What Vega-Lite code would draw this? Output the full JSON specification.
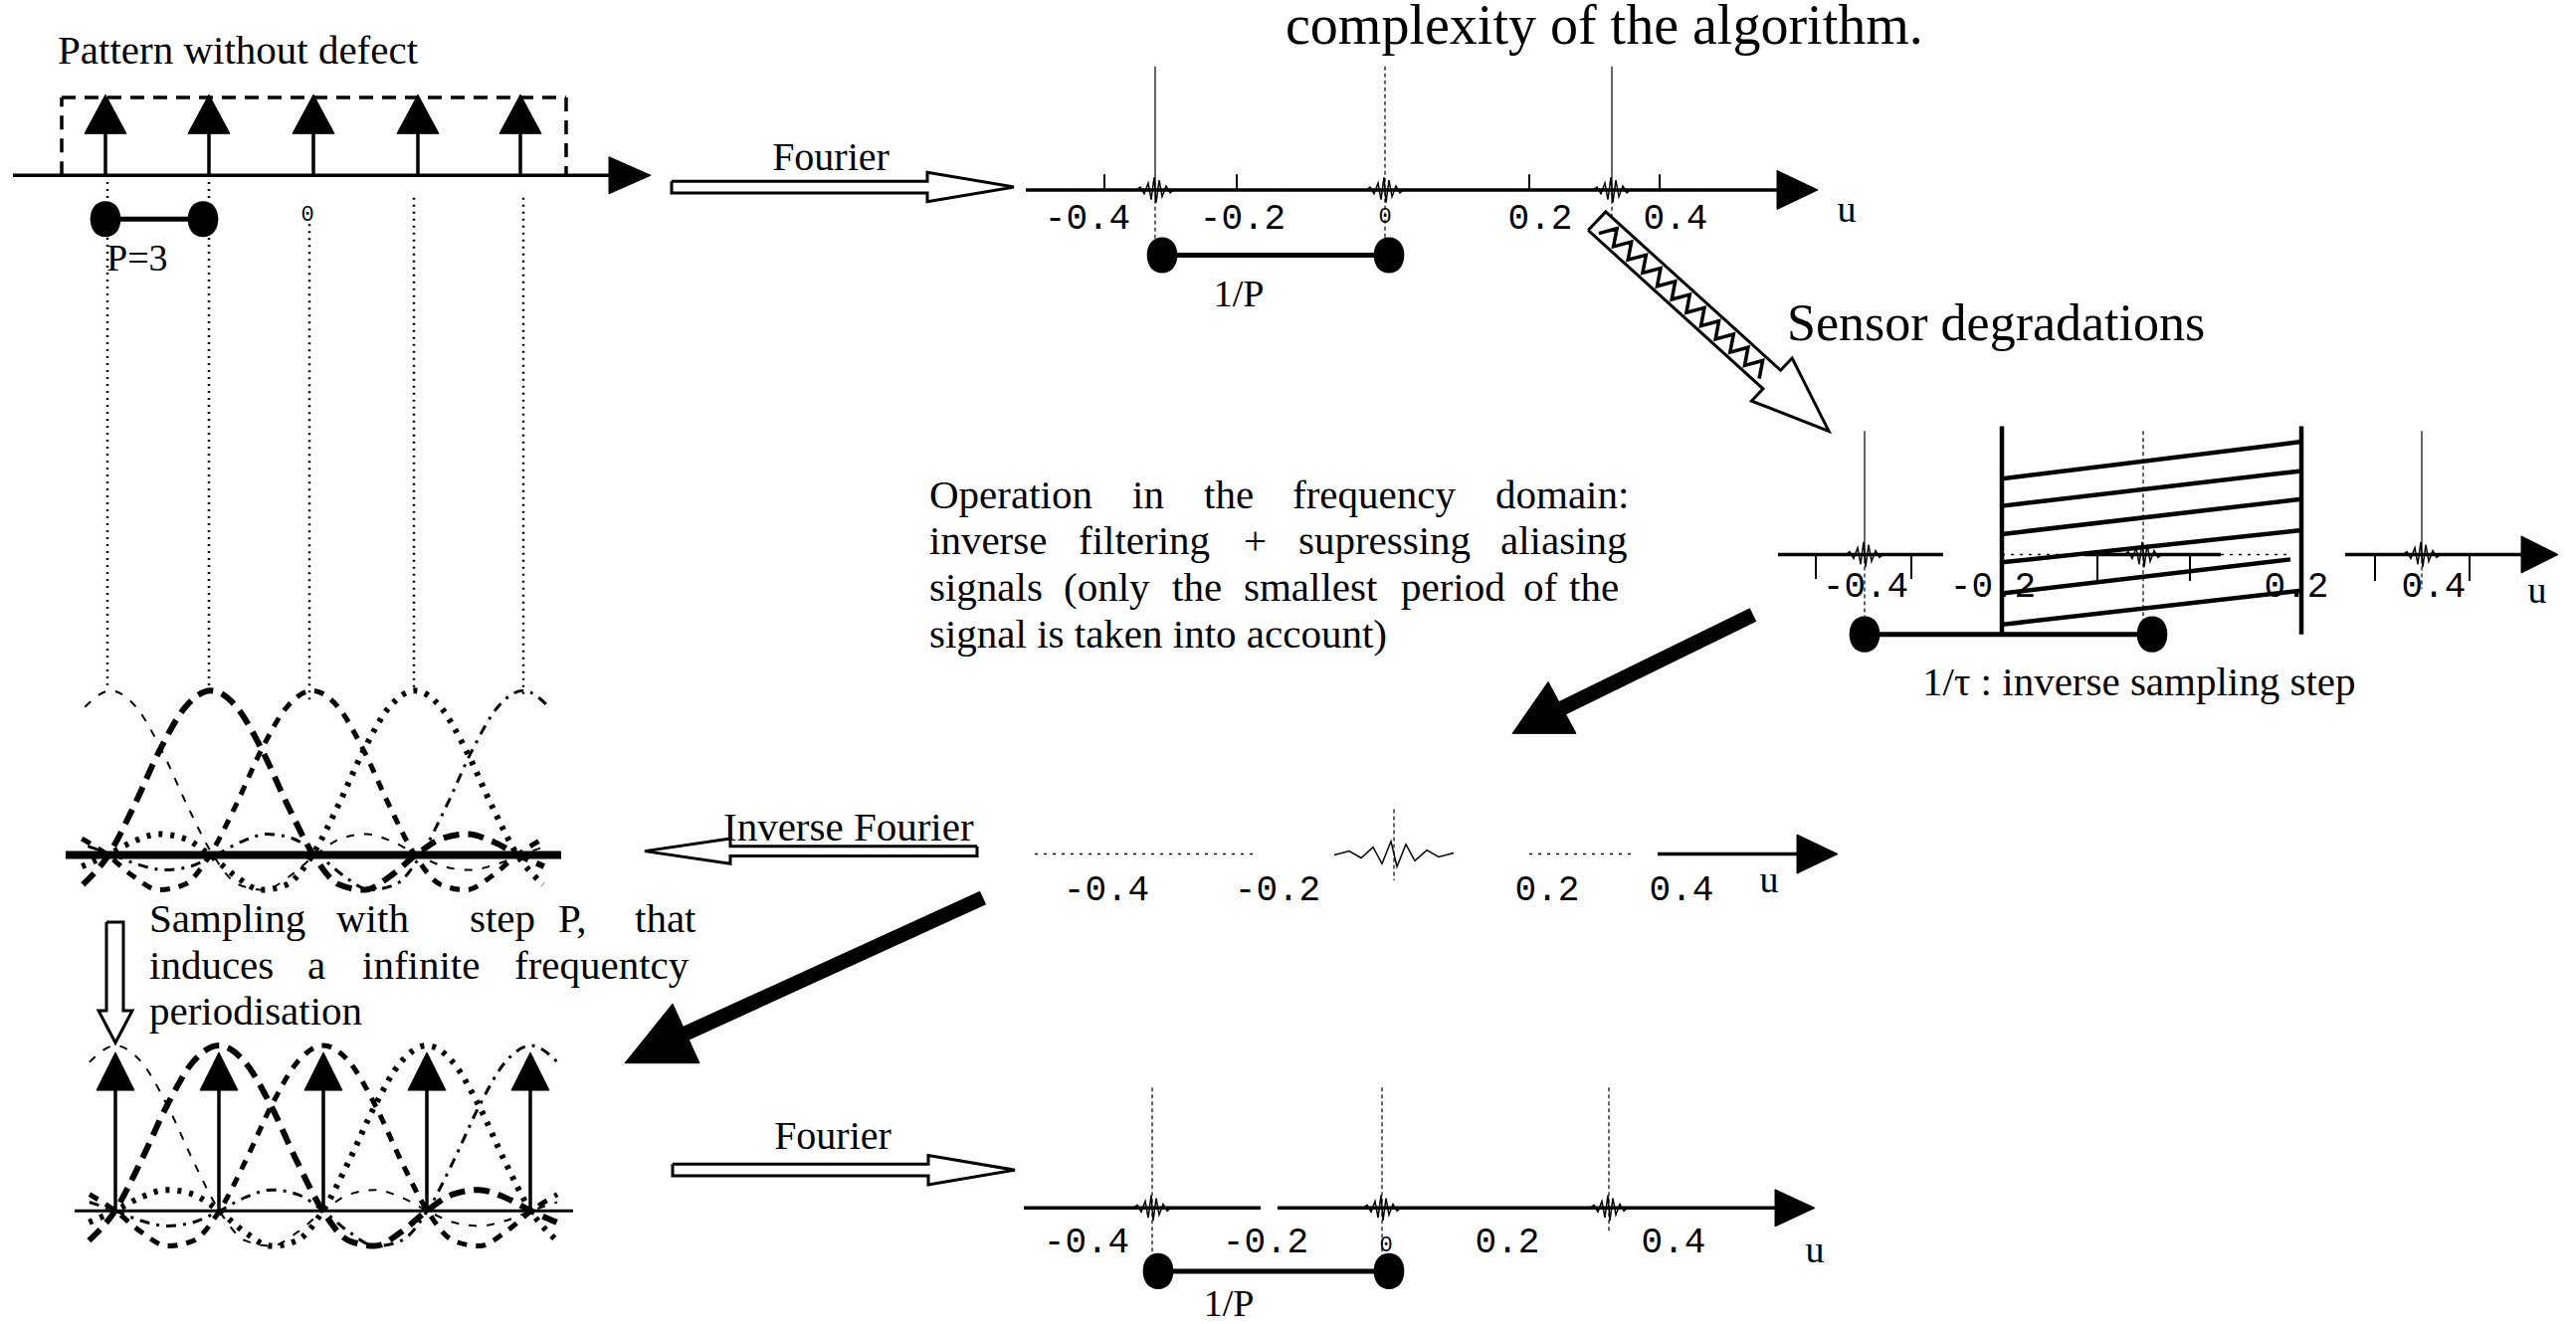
{
"$schema":"https://vega.github.io/schema/vega-lite/v6.json",
"width":2589,"height":1331,
"autosize":{"type":"fit","contains":"padding"},
"padding":0,
"background":"#ffffff",
"config":{"view":{"stroke":null}},
"datasets":{
"cv":[
{"g":"u1","s":"1","x":85.3,"y":711.8},{"g":"u1","s":"1","x":111,"y":695},{"g":"u1","s":"1","x":136.8,"y":711.8},{"g":"u1","s":"1","x":162.5,"y":756.4},{"g":"u1","s":"1","x":188.3,"y":813.3},{"g":"u1","s":"1","x":214,"y":864},{"g":"u1","s":"1","x":239.8,"y":894.4},{"g":"u1","s":"1","x":265.5,"y":899.9},{"g":"u1","s":"1","x":291.3,"y":885.7},{"g":"u1","s":"1","x":317,"y":864},{"g":"u1","s":"1","x":342.8,"y":847.1},{"g":"u1","s":"1","x":368.5,"y":842.5},{"g":"u1","s":"1","x":394.3,"y":850.2},{"g":"u1","s":"1","x":420,"y":864},{"g":"u1","s":"1","x":445.8,"y":875.7},{"g":"u1","s":"1","x":471.5,"y":879.4},{"g":"u1","s":"1","x":497.3,"y":874.1},{"g":"u1","s":"1","x":523,"y":864},{"g":"u1","s":"1","x":548.8,"y":855},
{"g":"u2","s":"2","x":83.3,"y":894.4},{"g":"u2","s":"2","x":109,"y":864},{"g":"u2","s":"2","x":134.8,"y":813.3},{"g":"u2","s":"2","x":160.5,"y":756.4},{"g":"u2","s":"2","x":186.3,"y":711.8},{"g":"u2","s":"2","x":212,"y":695},{"g":"u2","s":"2","x":237.8,"y":711.8},{"g":"u2","s":"2","x":263.5,"y":756.4},{"g":"u2","s":"2","x":289.3,"y":813.3},{"g":"u2","s":"2","x":315,"y":864},{"g":"u2","s":"2","x":340.8,"y":894.4},{"g":"u2","s":"2","x":366.5,"y":899.9},{"g":"u2","s":"2","x":392.3,"y":885.7},{"g":"u2","s":"2","x":418,"y":864},{"g":"u2","s":"2","x":443.8,"y":847.1},{"g":"u2","s":"2","x":469.5,"y":842.5},{"g":"u2","s":"2","x":495.3,"y":850.2},{"g":"u2","s":"2","x":521,"y":864},{"g":"u2","s":"2","x":546.8,"y":875.7},
{"g":"u3","s":"3","x":82.3,"y":847.1},{"g":"u3","s":"3","x":108,"y":864},{"g":"u3","s":"3","x":133.8,"y":885.7},{"g":"u3","s":"3","x":159.5,"y":899.9},{"g":"u3","s":"3","x":185.3,"y":894.4},{"g":"u3","s":"3","x":211,"y":864},{"g":"u3","s":"3","x":236.8,"y":813.3},{"g":"u3","s":"3","x":262.5,"y":756.4},{"g":"u3","s":"3","x":288.3,"y":711.8},{"g":"u3","s":"3","x":314,"y":695},{"g":"u3","s":"3","x":339.8,"y":711.8},{"g":"u3","s":"3","x":365.5,"y":756.4},{"g":"u3","s":"3","x":391.3,"y":813.3},{"g":"u3","s":"3","x":417,"y":864},{"g":"u3","s":"3","x":442.8,"y":894.4},{"g":"u3","s":"3","x":468.5,"y":899.9},{"g":"u3","s":"3","x":494.3,"y":885.7},{"g":"u3","s":"3","x":520,"y":864},{"g":"u3","s":"3","x":545.8,"y":847.1},
{"g":"u4","s":"4","x":82.3,"y":875.7},{"g":"u4","s":"4","x":108,"y":864},{"g":"u4","s":"4","x":133.8,"y":850.2},{"g":"u4","s":"4","x":159.5,"y":842.5},{"g":"u4","s":"4","x":185.3,"y":847.1},{"g":"u4","s":"4","x":211,"y":864},{"g":"u4","s":"4","x":236.8,"y":885.7},{"g":"u4","s":"4","x":262.5,"y":899.9},{"g":"u4","s":"4","x":288.3,"y":894.4},{"g":"u4","s":"4","x":314,"y":864},{"g":"u4","s":"4","x":339.8,"y":813.3},{"g":"u4","s":"4","x":365.5,"y":756.4},{"g":"u4","s":"4","x":391.3,"y":711.8},{"g":"u4","s":"4","x":417,"y":695},{"g":"u4","s":"4","x":442.8,"y":711.8},{"g":"u4","s":"4","x":468.5,"y":756.4},{"g":"u4","s":"4","x":494.3,"y":813.3},{"g":"u4","s":"4","x":520,"y":864},{"g":"u4","s":"4","x":545.8,"y":894.4},
{"g":"u5","s":"5","x":88.3,"y":855},{"g":"u5","s":"5","x":114,"y":864},{"g":"u5","s":"5","x":139.8,"y":874.1},{"g":"u5","s":"5","x":165.5,"y":879.4},{"g":"u5","s":"5","x":191.3,"y":875.7},{"g":"u5","s":"5","x":217,"y":864},{"g":"u5","s":"5","x":242.8,"y":850.2},{"g":"u5","s":"5","x":268.5,"y":842.5},{"g":"u5","s":"5","x":294.3,"y":847.1},{"g":"u5","s":"5","x":320,"y":864},{"g":"u5","s":"5","x":345.8,"y":885.7},{"g":"u5","s":"5","x":371.5,"y":899.9},{"g":"u5","s":"5","x":397.3,"y":894.4},{"g":"u5","s":"5","x":423,"y":864},{"g":"u5","s":"5","x":448.8,"y":813.3},{"g":"u5","s":"5","x":474.5,"y":756.4},{"g":"u5","s":"5","x":500.3,"y":711.8},{"g":"u5","s":"5","x":526,"y":695},{"g":"u5","s":"5","x":551.8,"y":711.8},
{"g":"l1","s":"1","x":89.9,"y":1076.9},{"g":"l1","s":"1","x":116,"y":1060},{"g":"l1","s":"1","x":142.1,"y":1076.9},{"g":"l1","s":"1","x":168.3,"y":1121.8},{"g":"l1","s":"1","x":194.4,"y":1179},{"g":"l1","s":"1","x":220.5,"y":1230},{"g":"l1","s":"1","x":246.6,"y":1260.6},{"g":"l1","s":"1","x":272.8,"y":1266.1},{"g":"l1","s":"1","x":298.9,"y":1251.9},{"g":"l1","s":"1","x":325,"y":1230},{"g":"l1","s":"1","x":351.1,"y":1213},{"g":"l1","s":"1","x":377.3,"y":1208.4},{"g":"l1","s":"1","x":403.4,"y":1216.1},{"g":"l1","s":"1","x":429.5,"y":1230},{"g":"l1","s":"1","x":455.6,"y":1241.8},{"g":"l1","s":"1","x":481.8,"y":1245.5},{"g":"l1","s":"1","x":507.9,"y":1240.2},{"g":"l1","s":"1","x":534,"y":1230},{"g":"l1","s":"1","x":560.1,"y":1221},
{"g":"l2","s":"2","x":89.4,"y":1260.6},{"g":"l2","s":"2","x":115.5,"y":1230},{"g":"l2","s":"2","x":141.6,"y":1179},{"g":"l2","s":"2","x":167.8,"y":1121.8},{"g":"l2","s":"2","x":193.9,"y":1076.9},{"g":"l2","s":"2","x":220,"y":1060},{"g":"l2","s":"2","x":246.1,"y":1076.9},{"g":"l2","s":"2","x":272.3,"y":1121.8},{"g":"l2","s":"2","x":298.4,"y":1179},{"g":"l2","s":"2","x":324.5,"y":1230},{"g":"l2","s":"2","x":350.6,"y":1260.6},{"g":"l2","s":"2","x":376.8,"y":1266.1},{"g":"l2","s":"2","x":402.9,"y":1251.9},{"g":"l2","s":"2","x":429,"y":1230},{"g":"l2","s":"2","x":455.1,"y":1213},{"g":"l2","s":"2","x":481.3,"y":1208.4},{"g":"l2","s":"2","x":507.4,"y":1216.1},{"g":"l2","s":"2","x":533.5,"y":1230},{"g":"l2","s":"2","x":559.6,"y":1241.8},
{"g":"l3","s":"3","x":89.9,"y":1213},{"g":"l3","s":"3","x":116,"y":1230},{"g":"l3","s":"3","x":142.1,"y":1251.9},{"g":"l3","s":"3","x":168.3,"y":1266.1},{"g":"l3","s":"3","x":194.4,"y":1260.6},{"g":"l3","s":"3","x":220.5,"y":1230},{"g":"l3","s":"3","x":246.6,"y":1179},{"g":"l3","s":"3","x":272.8,"y":1121.8},{"g":"l3","s":"3","x":298.9,"y":1076.9},{"g":"l3","s":"3","x":325,"y":1060},{"g":"l3","s":"3","x":351.1,"y":1076.9},{"g":"l3","s":"3","x":377.3,"y":1121.8},{"g":"l3","s":"3","x":403.4,"y":1179},{"g":"l3","s":"3","x":429.5,"y":1230},{"g":"l3","s":"3","x":455.6,"y":1260.6},{"g":"l3","s":"3","x":481.8,"y":1266.1},{"g":"l3","s":"3","x":507.9,"y":1251.9},{"g":"l3","s":"3","x":534,"y":1230},{"g":"l3","s":"3","x":560.1,"y":1213},
{"g":"l4","s":"4","x":89.4,"y":1241.8},{"g":"l4","s":"4","x":115.5,"y":1230},{"g":"l4","s":"4","x":141.6,"y":1216.1},{"g":"l4","s":"4","x":167.8,"y":1208.4},{"g":"l4","s":"4","x":193.9,"y":1213},{"g":"l4","s":"4","x":220,"y":1230},{"g":"l4","s":"4","x":246.1,"y":1251.9},{"g":"l4","s":"4","x":272.3,"y":1266.1},{"g":"l4","s":"4","x":298.4,"y":1260.6},{"g":"l4","s":"4","x":324.5,"y":1230},{"g":"l4","s":"4","x":350.6,"y":1179},{"g":"l4","s":"4","x":376.8,"y":1121.8},{"g":"l4","s":"4","x":402.9,"y":1076.9},{"g":"l4","s":"4","x":429,"y":1060},{"g":"l4","s":"4","x":455.1,"y":1076.9},{"g":"l4","s":"4","x":481.3,"y":1121.8},{"g":"l4","s":"4","x":507.4,"y":1179},{"g":"l4","s":"4","x":533.5,"y":1230},{"g":"l4","s":"4","x":559.6,"y":1260.6},
{"g":"l5","s":"5","x":89.9,"y":1221},{"g":"l5","s":"5","x":116,"y":1230},{"g":"l5","s":"5","x":142.1,"y":1240.2},{"g":"l5","s":"5","x":168.3,"y":1245.5},{"g":"l5","s":"5","x":194.4,"y":1241.8},{"g":"l5","s":"5","x":220.5,"y":1230},{"g":"l5","s":"5","x":246.6,"y":1216.1},{"g":"l5","s":"5","x":272.8,"y":1208.4},{"g":"l5","s":"5","x":298.9,"y":1213},{"g":"l5","s":"5","x":325,"y":1230},{"g":"l5","s":"5","x":351.1,"y":1251.9},{"g":"l5","s":"5","x":377.3,"y":1266.1},{"g":"l5","s":"5","x":403.4,"y":1260.6},{"g":"l5","s":"5","x":429.5,"y":1230},{"g":"l5","s":"5","x":455.6,"y":1179},{"g":"l5","s":"5","x":481.8,"y":1121.8},{"g":"l5","s":"5","x":507.9,"y":1076.9},{"g":"l5","s":"5","x":534,"y":1060},{"g":"l5","s":"5","x":560.1,"y":1076.9}
],
"seg":[
{"k":"a","x":13,"y":165,"x2":615,"y2":165},
{"k":"a","x":1031,"y":180,"x2":1790,"y2":180},
{"k":"a","x":1787,"y":555,"x2":1953,"y2":555},
{"k":"a","x":2095,"y":555,"x2":2232,"y2":555},
{"k":"a","x":2357,"y":555,"x2":2537,"y2":555},
{"k":"a","x":1666,"y":863,"x2":1809,"y2":863},
{"k":"a","x":1029,"y":1227,"x2":1267,"y2":1227},
{"k":"a","x":1284,"y":1227,"x2":1787,"y2":1227},
{"k":"a","x":106,"y":118,"x2":106,"y2":165},
{"k":"a","x":210,"y":118,"x2":210,"y2":165},
{"k":"a","x":315,"y":118,"x2":315,"y2":165},
{"k":"a","x":420,"y":118,"x2":420,"y2":165},
{"k":"a","x":523,"y":118,"x2":523,"y2":165},
{"k":"a","x":116,"y":1102,"x2":116,"y2":1230},
{"k":"a","x":220,"y":1102,"x2":220,"y2":1230},
{"k":"a","x":325,"y":1102,"x2":325,"y2":1230},
{"k":"a","x":429,"y":1102,"x2":429,"y2":1230},
{"k":"a","x":533,"y":1102,"x2":533,"y2":1230},
{"k":"box","x":2012,"y":423,"x2":2012,"y2":637},
{"k":"box","x":2313,"y":423,"x2":2313,"y2":637},
{"k":"box","x":2012,"y":477,"x2":2313,"y2":439},
{"k":"box","x":2012,"y":505,"x2":2313,"y2":469},
{"k":"box","x":2012,"y":534,"x2":2313,"y2":498},
{"k":"box","x":2012,"y":563,"x2":2313,"y2":530},
{"k":"box","x":2012,"y":595,"x2":2302,"y2":560},
{"k":"box","x":2012,"y":627,"x2":2313,"y2":592},
{"k":"a8","x":66,"y":864,"x2":564,"y2":864},
{"k":"lw3","x":75,"y":1230,"x2":576,"y2":1230},
{"k":"bar","x":106,"y":210,"x2":204,"y2":210},
{"k":"bar","x":1168,"y":247,"x2":1396,"y2":247},
{"k":"bar","x":1874,"y":637,"x2":2163,"y2":637},
{"k":"bar","x":1164,"y":1292,"x2":1396,"y2":1292},
{"k":"dash","x":62,"y":165,"x2":62,"y2":85},
{"k":"dash","x":62,"y":85,"x2":569,"y2":85},
{"k":"dash","x":569,"y":85,"x2":569,"y2":165},
{"k":"dot","x":108,"y":172,"x2":108,"y2":690},
{"k":"dot","x":210,"y":172,"x2":210,"y2":693},
{"k":"dot","x":311,"y":215,"x2":311,"y2":705},
{"k":"dot","x":416,"y":188,"x2":416,"y2":692},
{"k":"dot","x":526,"y":188,"x2":526,"y2":700},
{"k":"pk","x":1161,"y":53,"x2":1161,"y2":190},
{"k":"pk","x":1620,"y":53,"x2":1620,"y2":190},
{"k":"pk","x":1874,"y":428,"x2":1874,"y2":560},
{"k":"pk","x":2434,"y":428,"x2":2434,"y2":560},
{"k":"pkd","x":1392,"y":53,"x2":1392,"y2":240},
{"k":"pkd","x":1161,"y":190,"x2":1161,"y2":240},
{"k":"pkd","x":1620,"y":190,"x2":1620,"y2":210},
{"k":"pkd","x":2154,"y":428,"x2":2154,"y2":622},
{"k":"pkd","x":1874,"y":560,"x2":1874,"y2":625},
{"k":"pkd","x":2434,"y":560,"x2":2434,"y2":590},
{"k":"pkd","x":1401,"y":817,"x2":1401,"y2":890},
{"k":"pkd","x":1158,"y":1103,"x2":1158,"y2":1282},
{"k":"pkd","x":1389,"y":1103,"x2":1389,"y2":1280},
{"k":"pkd","x":1617,"y":1103,"x2":1617,"y2":1252},
{"k":"tk","x":1110,"y":164,"x2":1110,"y2":180},
{"k":"tk","x":1243,"y":164,"x2":1243,"y2":180},
{"k":"tk","x":1537,"y":164,"x2":1537,"y2":180},
{"k":"tk","x":1668,"y":164,"x2":1668,"y2":180},
{"k":"tk","x":1825,"y":555,"x2":1825,"y2":580},
{"k":"tk","x":1921,"y":555,"x2":1921,"y2":580},
{"k":"tk","x":2108,"y":555,"x2":2108,"y2":582},
{"k":"tk","x":2201,"y":555,"x2":2201,"y2":582},
{"k":"tk","x":2387,"y":555,"x2":2387,"y2":582},
{"k":"tk","x":2482,"y":555,"x2":2482,"y2":582},
{"k":"frag","x":1040,"y":863,"x2":1262,"y2":863},
{"k":"frag","x":1537,"y":863,"x2":1643,"y2":863},
{"k":"frag","x":2012,"y":555,"x2":2095,"y2":555},
{"k":"frag","x":2232,"y":555,"x2":2304,"y2":555},
{"k":"sh","x":1762,"y":617,"x2":1556,"y2":720},
{"k":"sh","x":988,"y":908,"x2":688,"y2":1048}
],
"pf":[
{"id":"h1","x":612,"y":146},{"id":"h1","x":654,"y":165},{"id":"h1","x":612,"y":184},{"id":"h1","x":612,"y":146},
{"id":"h2","x":1786,"y":160},{"id":"h2","x":1827,"y":180},{"id":"h2","x":1786,"y":200},{"id":"h2","x":1786,"y":160},
{"id":"h3","x":2534,"y":536},{"id":"h3","x":2571,"y":555},{"id":"h3","x":2534,"y":574},{"id":"h3","x":2534,"y":536},
{"id":"h4","x":1806,"y":843},{"id":"h4","x":1847,"y":863},{"id":"h4","x":1806,"y":883},{"id":"h4","x":1806,"y":843},
{"id":"h5","x":1784,"y":1208},{"id":"h5","x":1824,"y":1227},{"id":"h5","x":1784,"y":1246},{"id":"h5","x":1784,"y":1208},
{"id":"t1","x":106,"y":82},{"id":"t1","x":127,"y":122},{"id":"t1","x":85,"y":122},{"id":"t1","x":106,"y":82},
{"id":"t2","x":210,"y":82},{"id":"t2","x":231,"y":122},{"id":"t2","x":189,"y":122},{"id":"t2","x":210,"y":82},
{"id":"t3","x":315,"y":82},{"id":"t3","x":336,"y":122},{"id":"t3","x":294,"y":122},{"id":"t3","x":315,"y":82},
{"id":"t4","x":420,"y":82},{"id":"t4","x":441,"y":122},{"id":"t4","x":399,"y":122},{"id":"t4","x":420,"y":82},
{"id":"t5","x":523,"y":82},{"id":"t5","x":544,"y":122},{"id":"t5","x":502,"y":122},{"id":"t5","x":523,"y":82},
{"id":"b1","x":116,"y":1067},{"id":"b1","x":135,"y":1106},{"id":"b1","x":97,"y":1106},{"id":"b1","x":116,"y":1067},
{"id":"b2","x":220,"y":1067},{"id":"b2","x":239,"y":1106},{"id":"b2","x":201,"y":1106},{"id":"b2","x":220,"y":1067},
{"id":"b3","x":325,"y":1067},{"id":"b3","x":344,"y":1106},{"id":"b3","x":306,"y":1106},{"id":"b3","x":325,"y":1067},
{"id":"b4","x":429,"y":1067},{"id":"b4","x":448,"y":1106},{"id":"b4","x":410,"y":1106},{"id":"b4","x":429,"y":1067},
{"id":"b5","x":533,"y":1067},{"id":"b5","x":552,"y":1106},{"id":"b5","x":514,"y":1106},{"id":"b5","x":533,"y":1067},
{"id":"k1","x":1520,"y":739},{"id":"k1","x":1584,"y":739},{"id":"k1","x":1556,"y":686},{"id":"k1","x":1520,"y":739},
{"id":"k2","x":628,"y":1078},{"id":"k2","x":703,"y":1078},{"id":"k2","x":676,"y":1017},{"id":"k2","x":628,"y":1078}
],
"ph":[
{"id":"f1","x":675,"y":171},{"id":"f1","x":932,"y":171},{"id":"f1","x":932,"y":162},{"id":"f1","x":1019,"y":177},{"id":"f1","x":932,"y":192},{"id":"f1","x":932,"y":183},{"id":"f1","x":675,"y":183},{"id":"f1","x":675,"y":171},
{"id":"f2","x":676,"y":1182},{"id":"f2","x":933,"y":1182},{"id":"f2","x":933,"y":1173},{"id":"f2","x":1020,"y":1188},{"id":"f2","x":933,"y":1203},{"id":"f2","x":933,"y":1194},{"id":"f2","x":676,"y":1194},{"id":"f2","x":676,"y":1182},
{"id":"f3","x":982,"y":855},{"id":"f3","x":734,"y":855},{"id":"f3","x":734,"y":847},{"id":"f3","x":648,"y":860},{"id":"f3","x":734,"y":873},{"id":"f3","x":734,"y":865},{"id":"f3","x":982,"y":865},{"id":"f3","x":982,"y":855},
{"id":"f4","x":107,"y":933},{"id":"f4","x":124,"y":933},{"id":"f4","x":124,"y":1024},{"id":"f4","x":133,"y":1024},{"id":"f4","x":116,"y":1057},{"id":"f4","x":99,"y":1024},{"id":"f4","x":107,"y":1024},{"id":"f4","x":107,"y":933},
{"id":"f5","x":1596.2,"y":221.5},{"id":"f5","x":1772,"y":384.5},{"id":"f5","x":1760.4,"y":397},{"id":"f5","x":1838,"y":428},{"id":"f5","x":1801.2,"y":353},{"id":"f5","x":1789.6,"y":365.5},{"id":"f5","x":1613.8,"y":202.5},{"id":"f5","x":1596.2,"y":221.5}
],
"zz":[
{"x":1606.9,"y":224.7},{"x":1625.1,"y":219.7},{"x":1621.6,"y":238.2},{"x":1639.7,"y":233.3},{"x":1636.2,"y":251.8},{"x":1654.4,"y":246.9},{"x":1650.9,"y":265.4},{"x":1669,"y":260.5},{"x":1665.5,"y":279},{"x":1683.7,"y":274},{"x":1680.2,"y":292.6},{"x":1698.3,"y":287.6},{"x":1694.9,"y":306.2},{"x":1713,"y":301.2},{"x":1709.5,"y":319.8},{"x":1727.6,"y":314.8},{"x":1724.2,"y":333.4},{"x":1742.3,"y":328.4},{"x":1738.8,"y":346.9},{"x":1756.9,"y":341.9},{"x":1753.5,"y":360.5},{"x":1771.6,"y":355.5},{"x":1768.1,"y":374.1}
],
"fz":[
{"g":"F1","x":1141,"y":181},{"g":"F1","x":1146,"y":177},{"g":"F1","x":1150,"y":184},{"g":"F1","x":1154,"y":173},{"g":"F1","x":1157,"y":190},{"g":"F1","x":1160,"y":167},{"g":"F1","x":1162,"y":193},{"g":"F1","x":1165,"y":170},{"g":"F1","x":1168,"y":187},{"g":"F1","x":1172,"y":176},{"g":"F1","x":1176,"y":183},{"g":"F1","x":1181,"y":179},
{"g":"F2","x":1372,"y":181},{"g":"F2","x":1377,"y":177},{"g":"F2","x":1381,"y":184},{"g":"F2","x":1385,"y":173},{"g":"F2","x":1388,"y":190},{"g":"F2","x":1391,"y":167},{"g":"F2","x":1393,"y":193},{"g":"F2","x":1396,"y":170},{"g":"F2","x":1399,"y":187},{"g":"F2","x":1403,"y":176},{"g":"F2","x":1407,"y":183},{"g":"F2","x":1412,"y":179},
{"g":"F3","x":1600,"y":181},{"g":"F3","x":1605,"y":177},{"g":"F3","x":1609,"y":184},{"g":"F3","x":1613,"y":173},{"g":"F3","x":1616,"y":190},{"g":"F3","x":1619,"y":167},{"g":"F3","x":1621,"y":193},{"g":"F3","x":1624,"y":170},{"g":"F3","x":1627,"y":187},{"g":"F3","x":1631,"y":176},{"g":"F3","x":1635,"y":183},{"g":"F3","x":1640,"y":179},
{"g":"F4","x":1854,"y":556},{"g":"F4","x":1859,"y":552},{"g":"F4","x":1863,"y":559},{"g":"F4","x":1867,"y":548},{"g":"F4","x":1870,"y":565},{"g":"F4","x":1873,"y":542},{"g":"F4","x":1875,"y":568},{"g":"F4","x":1878,"y":545},{"g":"F4","x":1881,"y":562},{"g":"F4","x":1885,"y":551},{"g":"F4","x":1889,"y":558},{"g":"F4","x":1894,"y":554},
{"g":"F5","x":2134,"y":556},{"g":"F5","x":2139,"y":552},{"g":"F5","x":2143,"y":559},{"g":"F5","x":2147,"y":548},{"g":"F5","x":2150,"y":565},{"g":"F5","x":2153,"y":542},{"g":"F5","x":2155,"y":568},{"g":"F5","x":2158,"y":545},{"g":"F5","x":2161,"y":562},{"g":"F5","x":2165,"y":551},{"g":"F5","x":2169,"y":558},{"g":"F5","x":2174,"y":554},
{"g":"F6","x":2414,"y":556},{"g":"F6","x":2419,"y":552},{"g":"F6","x":2423,"y":559},{"g":"F6","x":2427,"y":548},{"g":"F6","x":2430,"y":565},{"g":"F6","x":2433,"y":542},{"g":"F6","x":2435,"y":568},{"g":"F6","x":2438,"y":545},{"g":"F6","x":2441,"y":562},{"g":"F6","x":2445,"y":551},{"g":"F6","x":2449,"y":558},{"g":"F6","x":2454,"y":554},
{"g":"F7","x":1341,"y":864},{"g":"F7","x":1356,"y":860},{"g":"F7","x":1368,"y":867},{"g":"F7","x":1380,"y":856},{"g":"F7","x":1389,"y":873},{"g":"F7","x":1398,"y":850},{"g":"F7","x":1404,"y":876},{"g":"F7","x":1413,"y":853},{"g":"F7","x":1422,"y":870},{"g":"F7","x":1434,"y":859},{"g":"F7","x":1446,"y":866},{"g":"F7","x":1461,"y":862},
{"g":"F8","x":1138,"y":1228},{"g":"F8","x":1143,"y":1224},{"g":"F8","x":1147,"y":1231},{"g":"F8","x":1151,"y":1220},{"g":"F8","x":1154,"y":1237},{"g":"F8","x":1157,"y":1214},{"g":"F8","x":1159,"y":1240},{"g":"F8","x":1162,"y":1217},{"g":"F8","x":1165,"y":1234},{"g":"F8","x":1169,"y":1223},{"g":"F8","x":1173,"y":1230},{"g":"F8","x":1178,"y":1226},
{"g":"F9","x":1369,"y":1228},{"g":"F9","x":1374,"y":1224},{"g":"F9","x":1378,"y":1231},{"g":"F9","x":1382,"y":1220},{"g":"F9","x":1385,"y":1237},{"g":"F9","x":1388,"y":1214},{"g":"F9","x":1390,"y":1240},{"g":"F9","x":1393,"y":1217},{"g":"F9","x":1396,"y":1234},{"g":"F9","x":1400,"y":1223},{"g":"F9","x":1404,"y":1230},{"g":"F9","x":1409,"y":1226},
{"g":"F10","x":1597,"y":1228},{"g":"F10","x":1602,"y":1224},{"g":"F10","x":1606,"y":1231},{"g":"F10","x":1610,"y":1220},{"g":"F10","x":1613,"y":1237},{"g":"F10","x":1616,"y":1214},{"g":"F10","x":1618,"y":1240},{"g":"F10","x":1621,"y":1217},{"g":"F10","x":1624,"y":1234},{"g":"F10","x":1628,"y":1223},{"g":"F10","x":1632,"y":1230},{"g":"F10","x":1637,"y":1226}
],
"pt":[
{"x":106,"y":210},{"x":204,"y":210},{"x":1168,"y":247},{"x":1396,"y":247},{"x":1874,"y":637},{"x":2163,"y":637},{"x":1164,"y":1292},{"x":1396,"y":1292}
],
"tx":[
{"k":"L41","t":"Pattern without defect","x":58,"y":50},
{"k":"L38","t":"P=3","x":107,"y":263},
{"k":"L56","t":"complexity of the algorithm.","x":1292,"y":30},
{"k":"L52","t":"Sensor degradations","x":1796,"y":335},
{"k":"L41","t":"Inverse Fourier","x":727,"y":849},
{"k":"L41","t":"1/τ : inverse sampling step","x":1932,"y":700},
{"k":"L41","t":"Operation","x":934,"y":507},
{"k":"L41","t":"in","x":1138,"y":507},
{"k":"L41","t":"the","x":1210,"y":507},
{"k":"L41","t":"frequency","x":1299,"y":507},
{"k":"L41","t":"domain:","x":1503,"y":507},
{"k":"L41","t":"inverse","x":934,"y":555},
{"k":"L41","t":"filtering","x":1084,"y":555},
{"k":"L41","t":"+","x":1250,"y":555},
{"k":"L41","t":"supressing","x":1305,"y":555},
{"k":"L41","t":"aliasing","x":1508,"y":555},
{"k":"L41","t":"signals","x":934,"y":603},
{"k":"L41","t":"(only","x":1069,"y":603},
{"k":"L41","t":"the","x":1178,"y":603},
{"k":"L41","t":"smallest","x":1250,"y":603},
{"k":"L41","t":"period","x":1408,"y":603},
{"k":"L41","t":"of","x":1531,"y":603},
{"k":"L41","t":"the","x":1577,"y":603},
{"k":"L41","t":"signal is taken into account)","x":934,"y":651},
{"k":"L41","t":"Sampling","x":150,"y":943},
{"k":"L41","t":"with","x":338,"y":943},
{"k":"L41","t":"step","x":472,"y":943},
{"k":"L41","t":"P,","x":561,"y":943},
{"k":"L41","t":"that","x":638,"y":943},
{"k":"L41","t":"induces","x":150,"y":991},
{"k":"L41","t":"a","x":309,"y":991},
{"k":"L41","t":"infinite","x":364,"y":991},
{"k":"L41","t":"frequentcy","x":517,"y":991},
{"k":"L41","t":"periodisation","x":150,"y":1038},
{"k":"C40","t":"Fourier","x":835,"y":160},
{"k":"C40","t":"Fourier","x":837,"y":1166},
{"k":"C38","t":"1/P","x":1245,"y":300},
{"k":"C38","t":"1/P","x":1235,"y":1338},
{"k":"C38","t":"u","x":1856,"y":213},
{"k":"C38","t":"u","x":2550,"y":605},
{"k":"C38","t":"u","x":1778,"y":902},
{"k":"C38","t":"u","x":1824,"y":1283},
{"k":"M36","t":"-0.4","x":1093,"y":220},{"k":"M36","t":"-0.2","x":1249,"y":220},{"k":"M36","t":"0.2","x":1548,"y":220},{"k":"M36","t":"0.4","x":1684,"y":220},
{"k":"M36","t":"-0.4","x":1875,"y":598},{"k":"M36","t":"-0.2","x":2003,"y":598},{"k":"M36","t":"0.2","x":2308,"y":598},{"k":"M36","t":"0.4","x":2446,"y":598},
{"k":"M36","t":"-0.4","x":1112,"y":911},{"k":"M36","t":"-0.2","x":1284,"y":911},{"k":"M36","t":"0.2","x":1555,"y":911},{"k":"M36","t":"0.4","x":1690,"y":911},
{"k":"M36","t":"-0.4","x":1092,"y":1273},{"k":"M36","t":"-0.2","x":1272,"y":1273},{"k":"M36","t":"0.2","x":1515,"y":1273},{"k":"M36","t":"0.4","x":1682,"y":1273},
{"k":"M22","t":"0","x":1392,"y":214},{"k":"M22","t":"0","x":309,"y":212},{"k":"M22","t":"0","x":1393,"y":1272}
]
},
"encoding":{
"x":{"field":"x","type":"quantitative","scale":{"domain":[0,2589],"nice":false,"zero":false},"axis":null},
"y":{"field":"y","type":"quantitative","scale":{"domain":[0,1331],"nice":false,"zero":false,"reverse":true},"axis":null}
},
"layer":[
{"data":{"name":"cv"},"transform":[{"filter":"datum.s=='1'"}],"mark":{"type":"line","interpolate":"monotone","color":"#000","strokeWidth":2,"strokeDash":[8,10]},"encoding":{"detail":{"field":"g","type":"nominal"}}},
{"data":{"name":"cv"},"transform":[{"filter":"datum.s=='2'"}],"mark":{"type":"line","interpolate":"monotone","color":"#000","strokeWidth":6,"strokeDash":[16,9]},"encoding":{"detail":{"field":"g","type":"nominal"}}},
{"data":{"name":"cv"},"transform":[{"filter":"datum.s=='3'"}],"mark":{"type":"line","interpolate":"monotone","color":"#000","strokeWidth":5,"strokeDash":[10,9]},"encoding":{"detail":{"field":"g","type":"nominal"}}},
{"data":{"name":"cv"},"transform":[{"filter":"datum.s=='4'"}],"mark":{"type":"line","interpolate":"monotone","color":"#000","strokeWidth":6,"strokeDash":[4,8]},"encoding":{"detail":{"field":"g","type":"nominal"}}},
{"data":{"name":"cv"},"transform":[{"filter":"datum.s=='5'"}],"mark":{"type":"line","interpolate":"monotone","color":"#000","strokeWidth":3,"strokeDash":[10,7,3,7]},"encoding":{"detail":{"field":"g","type":"nominal"}}},
{"data":{"name":"seg"},"transform":[{"filter":"datum.k=='a'"}],"mark":{"type":"rule","color":"#000","strokeWidth":3.5},"encoding":{"x2":{"field":"x2"},"y2":{"field":"y2"}}},
{"data":{"name":"seg"},"transform":[{"filter":"datum.k=='box'"}],"mark":{"type":"rule","color":"#000","strokeWidth":4.5},"encoding":{"x2":{"field":"x2"},"y2":{"field":"y2"}}},
{"data":{"name":"seg"},"transform":[{"filter":"datum.k=='a8'"}],"mark":{"type":"rule","color":"#000","strokeWidth":8},"encoding":{"x2":{"field":"x2"},"y2":{"field":"y2"}}},
{"data":{"name":"seg"},"transform":[{"filter":"datum.k=='lw3'"}],"mark":{"type":"rule","color":"#000","strokeWidth":3},"encoding":{"x2":{"field":"x2"},"y2":{"field":"y2"}}},
{"data":{"name":"seg"},"transform":[{"filter":"datum.k=='bar'"}],"mark":{"type":"rule","color":"#000","strokeWidth":5},"encoding":{"x2":{"field":"x2"},"y2":{"field":"y2"}}},
{"data":{"name":"seg"},"transform":[{"filter":"datum.k=='dash'"}],"mark":{"type":"rule","color":"#000","strokeWidth":3.5,"strokeDash":[14,9]},"encoding":{"x2":{"field":"x2"},"y2":{"field":"y2"}}},
{"data":{"name":"seg"},"transform":[{"filter":"datum.k=='dot'"}],"mark":{"type":"rule","color":"#000","strokeWidth":2.5,"strokeDash":[2,5]},"encoding":{"x2":{"field":"x2"},"y2":{"field":"y2"}}},
{"data":{"name":"seg"},"transform":[{"filter":"datum.k=='pk'"}],"mark":{"type":"rule","color":"#000","strokeWidth":1.2},"encoding":{"x2":{"field":"x2"},"y2":{"field":"y2"}}},
{"data":{"name":"seg"},"transform":[{"filter":"datum.k=='pkd'"}],"mark":{"type":"rule","color":"#000","strokeWidth":1.2,"strokeDash":[4,3]},"encoding":{"x2":{"field":"x2"},"y2":{"field":"y2"}}},
{"data":{"name":"seg"},"transform":[{"filter":"datum.k=='tk'"}],"mark":{"type":"rule","color":"#000","strokeWidth":2},"encoding":{"x2":{"field":"x2"},"y2":{"field":"y2"}}},
{"data":{"name":"seg"},"transform":[{"filter":"datum.k=='frag'"}],"mark":{"type":"rule","color":"#000","strokeWidth":1.5,"strokeDash":[3,6]},"encoding":{"x2":{"field":"x2"},"y2":{"field":"y2"}}},
{"data":{"name":"seg"},"transform":[{"filter":"datum.k=='sh'"}],"mark":{"type":"rule","color":"#000","strokeWidth":15},"encoding":{"x2":{"field":"x2"},"y2":{"field":"y2"}}},
{"data":{"name":"fz"},"mark":{"type":"line","color":"#000","strokeWidth":1.5},"encoding":{"detail":{"field":"g","type":"nominal"}}},
{"data":{"name":"ph"},"mark":{"type":"line","fill":"#ffffff","stroke":"#000","strokeWidth":3,"strokeJoin":"miter"},"encoding":{"detail":{"field":"id","type":"nominal"},"order":{"value":null}}},
{"data":{"name":"zz"},"mark":{"type":"line","color":"#000","strokeWidth":3.5},"encoding":{"order":{"value":null}}},
{"data":{"name":"pf"},"mark":{"type":"line","filled":true,"fill":"#000","stroke":"#000","strokeWidth":1},"encoding":{"detail":{"field":"id","type":"nominal"},"order":{"value":null}}},
{"data":{"name":"pt"},"mark":{"type":"point","filled":true,"color":"#000","opacity":1,"size":1300,"shape":"M0,-1C0.55,-1 0.85,-0.55 0.85,0C0.85,0.55 0.55,1 0,1C-0.55,1 -0.85,0.55 -0.85,0C-0.85,-0.55 -0.55,-1 0,-1Z"}},
{"data":{"name":"tx"},"transform":[{"filter":"datum.k=='L41'"}],"mark":{"type":"text","font":"Liberation Serif","fontSize":41,"align":"left","baseline":"alphabetic","color":"#000"},"encoding":{"text":{"field":"t"}}},
{"data":{"name":"tx"},"transform":[{"filter":"datum.k=='L38'"}],"mark":{"type":"text","font":"Liberation Serif","fontSize":38,"align":"left","baseline":"alphabetic","color":"#000"},"encoding":{"text":{"field":"t"}}},
{"data":{"name":"tx"},"transform":[{"filter":"datum.k=='L52'"}],"mark":{"type":"text","font":"Liberation Serif","fontSize":52,"align":"left","baseline":"alphabetic","color":"#000"},"encoding":{"text":{"field":"t"}}},
{"data":{"name":"tx"},"transform":[{"filter":"datum.k=='L56'"}],"mark":{"type":"text","font":"Liberation Serif","fontSize":56,"align":"left","baseline":"alphabetic","color":"#000"},"encoding":{"text":{"field":"t"}}},
{"data":{"name":"tx"},"transform":[{"filter":"datum.k=='C40'"}],"mark":{"type":"text","font":"Liberation Serif","fontSize":40,"align":"center","baseline":"alphabetic","color":"#000"},"encoding":{"text":{"field":"t"}}},
{"data":{"name":"tx"},"transform":[{"filter":"datum.k=='C38'"}],"mark":{"type":"text","font":"Liberation Serif","fontSize":38,"align":"center","baseline":"alphabetic","color":"#000"},"encoding":{"text":{"field":"t"}}},
{"data":{"name":"tx"},"transform":[{"filter":"datum.k=='M36'"}],"mark":{"type":"text","font":"Liberation Mono","fontSize":36,"align":"center","baseline":"alphabetic","color":"#000"},"encoding":{"text":{"field":"t"}}},
{"data":{"name":"tx"},"transform":[{"filter":"datum.k=='M22'"}],"mark":{"type":"text","font":"Liberation Mono","fontSize":22,"align":"center","baseline":"alphabetic","color":"#000"},"encoding":{"text":{"field":"t"}}}
]
}
